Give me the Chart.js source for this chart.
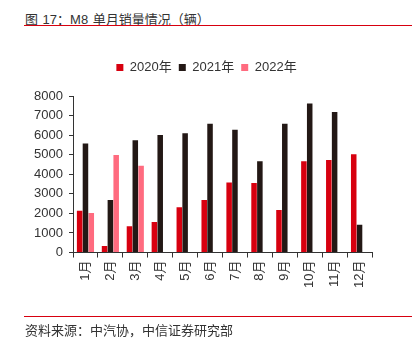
<!DOCTYPE html>
<html>
<head>
<meta charset="utf-8">
<script src="https://cdn.jsdelivr.net/npm/chart.js@4"></script>
<style>
  body { margin: 0; background: #fff; }
  #wrap { position: relative; width: 413px; height: 344px; font-family: "Liberation Sans", "Noto Sans CJK SC", sans-serif; color: #333; }
  #title { position: absolute; left: 25px; top: 9px; font-size: 13px; word-spacing: 1px; }
  #src { position: absolute; left: 25px; top: 320px; font-size: 13px; }
  .rule { position: absolute; left: 24px; width: 388px; height: 1px; background: #d7000f; }
  canvas { position: absolute; left: 0; top: 0; }
</style>
</head>
<body>
<div id="wrap">
  <div id="title">图 17：M8 单月销量情况（辆）</div>
  <div class="rule" style="top:25px"></div>
  <canvas id="chart" width="413" height="344"></canvas>
  <div class="rule" style="top:316px"></div>
  <div id="src">资料来源：中汽协，中信证券研究部</div>
</div>
<script>
const months = ["1月", "2月", "3月", "4月", "5月", "6月", "7月", "8月", "9月", "10月", "11月", "12月"];
const sales2020 = [2130, 340, 1340, 1560, 2310, 2690, 3580, 3550, 2180, 4660, 4730, 5020];
const sales2021 = [5570, 2690, 5740, 6010, 6100, 6580, 6270, 4660, 6580, 7620, 7180, 1420];
const sales2022 = [2020, 4980, 4440, null, null, null, null, null, null, null, null, null];
const yTicks = [0, 1000, 2000, 3000, 4000, 5000, 6000, 7000, 8000];

const font = { family: "'Liberation Sans', 'Noto Sans CJK SC', sans-serif", size: 13 };

const legendHeight = {
  id: "legendHeight",
  beforeInit(chart) {
    const fit = chart.legend.fit;
    chart.legend.fit = function () {
      fit.bind(chart.legend)();
      this.height = 42;
    };
  }
};

new Chart(document.getElementById("chart"), {
  type: "bar",
  data: {
    labels: months,
    datasets: [
      { label: "2020年", data: sales2020, backgroundColor: "#d7000f" },
      { label: "2021年", data: sales2021, backgroundColor: "#231815" },
      { label: "2022年", data: sales2022, backgroundColor: "#ff6b7f" }
    ]
  },
  options: {
    responsive: false,
    animation: false,
    categoryPercentage: 0.7,
    barPercentage: 0.95,
    layout: { padding: { top: 54, left: 0, right: 0, bottom: 53 } },
    plugins: {
      legend: {
        labels: { boxWidth: 7, boxHeight: 7, padding: 7, color: "#333", font: font }
      },
      tooltip: { enabled: false }
    },
    scales: {
      x: {
        grid: { display: true, drawOnChartArea: false, offset: true, tickLength: 5, color: "#333" },
        border: { color: "#333" },
        ticks: { minRotation: 90, maxRotation: 90, color: "#333", font: font, padding: 3 }
      },
      y: {
        min: 0,
        max: 8000,
        afterFit(s) { s.width = 73; },
        afterBuildTicks(s) { s.ticks = yTicks.map(v => ({ value: v })); },
        grid: { display: true, drawOnChartArea: false, tickLength: 4, color: "#333" },
        border: { color: "#333" },
        ticks: { color: "#333", font: font, padding: 6, callback: v => String(v) }
      },
      spacer: {
        position: "right",
        afterFit(s) { s.width = 41; },
        grid: { display: false },
        border: { display: false },
        ticks: { display: false }
      }
    }
  },
  plugins: [legendHeight]
});
</script>
</body>
</html>
